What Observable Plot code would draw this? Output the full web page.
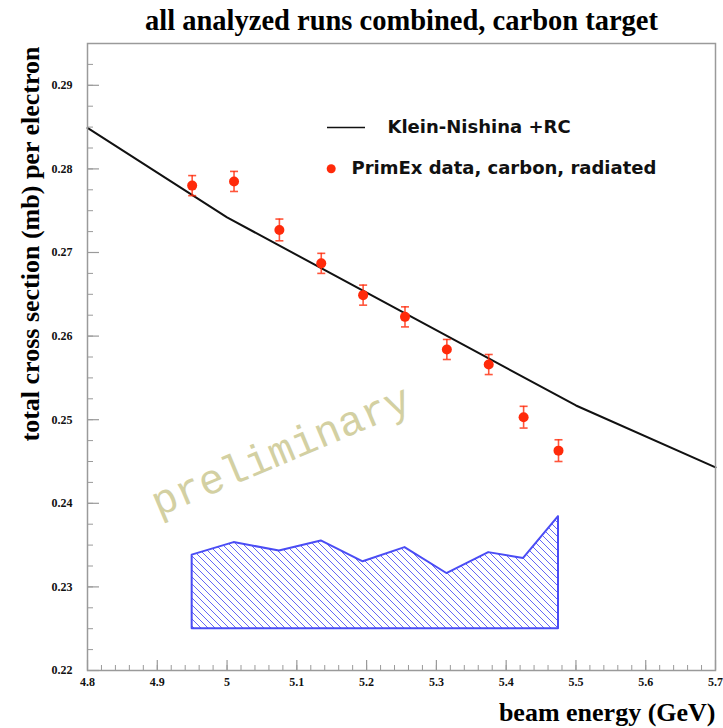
<!DOCTYPE html>
<html>
<head>
<meta charset="utf-8">
<script src="https://cdn.jsdelivr.net/npm/d3@7"></script>
<script src="https://cdn.jsdelivr.net/npm/@observablehq/plot@0.6"></script>
<style>
  html, body { margin: 0; padding: 0; background: #fff; }
</style>
</head>
<body>
<div id="chart"></div>
<script>
// PrimEx measurement points (beam energy in GeV, cross section in mb per electron)
const energy   = [4.95, 5.01, 5.075, 5.135, 5.195, 5.255, 5.315, 5.375, 5.425, 5.475];
const sigma    = [0.2780, 0.2785, 0.2727, 0.2687, 0.2649, 0.2623, 0.2584, 0.2566, 0.2503, 0.2463];
const sigmaErr = [0.0012, 0.0012, 0.0013, 0.0012, 0.0012, 0.0012, 0.0012, 0.0012, 0.0013, 0.0013];

// systematic-uncertainty band, drawn above a fixed base line
const systTop  = [0.2338, 0.2353, 0.2343, 0.2355, 0.2330, 0.2347, 0.2316, 0.2341, 0.2334, 0.2384];
const systBase = 0.225;

// Klein-Nishina + radiative corrections prediction
const knEnergy = [4.8, 5.0, 5.5, 5.7];
const knSigma  = [0.2849, 0.2742, 0.2517, 0.2443];

// axis ticks and their labels
const xMajor = [4.8, 4.9, 5.0, 5.1, 5.2, 5.3, 5.4, 5.5, 5.6, 5.7];
const xTickLabels = ["4.8", "4.9", "5", "5.1", "5.2", "5.3", "5.4", "5.5", "5.6", "5.7"];
const yMajor = [0.22, 0.23, 0.24, 0.25, 0.26, 0.27, 0.28, 0.29];
const yTickLabels = ["0.22", "0.23", "0.24", "0.25", "0.26", "0.27", "0.28", "0.29"];
const xMinor = d3.range(0, 46).map(i => 4.8 + i * 0.02);
const yMinor = d3.range(0, 31).map(i => 0.22 + i * 0.0025);

const watermark = [{x: 5.077, y: 0.2463, text: "preliminary"}];

const points = energy.map((e, i) => ({e, s: sigma[i], err: sigmaErr[i]}));
const band = energy.map((e, i) => ({e, top: systTop[i]}));
const kn = knEnergy.map((e, i) => ({e, s: knSigma[i]}));

const W = 723, H = 728;
const mL = 87, mR = 8, mT = 43, mB = 58;
const frameW = W - mL - mR, frameH = H - mT - mB;

const serif = "'Liberation Serif', 'Times New Roman', serif";
const sans = "'DejaVu Sans', 'Liberation Sans', Arial, sans-serif";
const red = "#ff2a0a";
const blue = "#4a4cf5";
const axisGray = "#9a9a9a";

// horizontal cap symbol for error bars
const capSymbol = {
  draw(context, size) {
    const r = Math.sqrt(size / Math.PI);
    context.moveTo(-r, 0);
    context.lineTo(r, 0);
  }
};

// legend line sample
const legendLine = (index, scales, values, dims) => {
  const g = d3.create("svg:line")
    .attr("x1", dims.marginLeft + 240).attr("x2", dims.marginLeft + 278)
    .attr("y1", dims.marginTop + 84.5).attr("y2", dims.marginTop + 84.5)
    .attr("stroke", "#111").attr("stroke-width", 1.6);
  return g.node();
};

const chart = Plot.plot({
  width: W,
  height: H,
  marginLeft: mL,
  marginRight: mR,
  marginTop: mT,
  marginBottom: mB,
  x: {domain: [4.8, 5.7]},
  y: {domain: [0.22, 0.295]},
  style: {background: "#fff", overflow: "visible"},
  marks: [
    // watermark
    Plot.text(watermark, {
      x: "x", y: "y", text: "text", rotate: -22.8,
      fontFamily: "'Liberation Mono', 'Courier New', monospace",
      fontSize: 42, fill: "#d3d0a2"
    }),
    // systematic band
    Plot.areaY(band, {
      x: "e", y1: systBase, y2: "top",
      fill: "url(#hatch)", stroke: blue, strokeWidth: 2, strokeLinejoin: "round"
    }),
    // Klein-Nishina curve
    Plot.line(kn, {x: "e", y: "s", stroke: "#111", strokeWidth: 2}),
    // error bars
    Plot.ruleX(points, {
      x: "e", y1: d => d.s - d.err, y2: d => d.s + d.err,
      stroke: red, strokeWidth: 1.6, strokeOpacity: 0.8
    }),
    Plot.dot(points, {
      x: "e", y: d => d.s - d.err, symbol: capSymbol, r: 4,
      stroke: red, strokeWidth: 1.6, strokeOpacity: 0.8, fill: "none"
    }),
    Plot.dot(points, {
      x: "e", y: d => d.s + d.err, symbol: capSymbol, r: 4,
      stroke: red, strokeWidth: 1.6, strokeOpacity: 0.8, fill: "none"
    }),
    Plot.dot(points, {x: "e", y: "s", r: 5, fill: red, stroke: "none"}),

    // frame and inward ticks
    Plot.frame({stroke: axisGray, strokeWidth: 1.5}),
    Plot.ruleX(xMajor, {x: d => d, insetTop: frameH - 10, stroke: axisGray, strokeWidth: 1.2}),
    Plot.ruleX(xMinor, {x: d => d, insetTop: frameH - 5, stroke: axisGray, strokeWidth: 1}),
    Plot.ruleY(yMajor, {y: d => d, insetRight: frameW - 12, stroke: axisGray, strokeWidth: 1.2}),
    Plot.ruleY(yMinor, {y: d => d, insetRight: frameW - 6, stroke: axisGray, strokeWidth: 1}),

    // tick labels
    Plot.axisX({
      ticks: xMajor, tickSize: 0, tickPadding: 7, label: null,
      tickFormat: (d, i) => xTickLabels[i],
      fontSize: 12, fontWeight: "bold", fontFamily: serif, fill: "#111"
    }),
    Plot.axisY({
      ticks: yMajor, tickSize: 0, tickPadding: 15, label: null,
      tickFormat: (d, i) => yTickLabels[i],
      fontSize: 12, fontWeight: "bold", fontFamily: serif, fill: "#111"
    }),

    // titles
    Plot.text(["all analyzed runs combined, carbon target"], {
      frameAnchor: "top", dy: -23, lineAnchor: "middle",
      fontFamily: serif, fontWeight: "bold", fontSize: 28.5, fill: "#000"
    }),
    Plot.text(["beam energy (GeV)"], {
      frameAnchor: "bottom-right", textAnchor: "end", lineAnchor: "middle", dy: 42,
      fontFamily: serif, fontWeight: "bold", fontSize: 26, fill: "#000"
    }),
    Plot.text(["total cross section (mb) per electron"], {
      frameAnchor: "left", rotate: -90, dx: -57, dy: -113,
      textAnchor: "middle", lineAnchor: "middle",
      fontFamily: serif, fontWeight: "bold", fontSize: 26, fill: "#000"
    }),

    // legend
    legendLine,
    Plot.text(["Klein-Nishina +RC"], {
      frameAnchor: "top-left", dx: 300, dy: 84, textAnchor: "start", lineAnchor: "middle",
      fontFamily: sans, fontWeight: "bold", fontSize: 18, fill: "#111"
    }),
    Plot.dot([0], {frameAnchor: "top-left", dx: 243.7, dy: 125.3, r: 4.5, fill: red}),
    Plot.text(["PrimEx data, carbon, radiated"], {
      frameAnchor: "top-left", dx: 264, dy: 125, textAnchor: "start", lineAnchor: "middle",
      fontFamily: sans, fontWeight: "bold", fontSize: 18, fill: "#111"
    })
  ]
});

// diagonal hatch used by the systematic band
d3.select(chart).insert("defs", ":first-child").html(
  `<pattern id="hatch" patternUnits="userSpaceOnUse" width="7" height="7">
     <path d="M-1,-1 L8,8 M-1,6 L1,8 M6,-1 L8,1" stroke="${blue}" stroke-width="1" stroke-opacity="0.85"/>
   </pattern>`
);

document.getElementById("chart").appendChild(chart);
</script>
</body>
</html>
